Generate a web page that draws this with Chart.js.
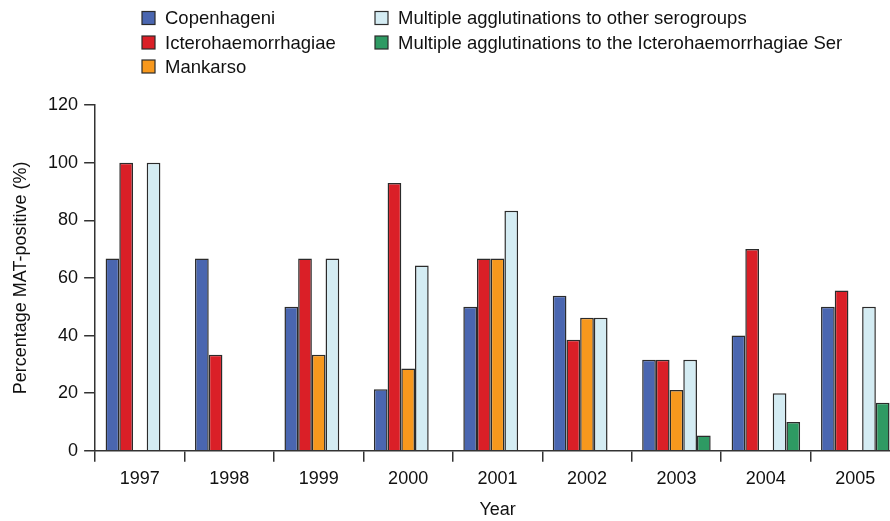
<!DOCTYPE html>
<html>
<head>
<meta charset="utf-8">
<script src="https://cdn.jsdelivr.net/npm/chart.js@4.4.1/dist/chart.umd.min.js"></script>
<style>
  html, body { margin: 0; padding: 0; background: #fff; overflow: hidden; }
  #wrap { width: 900px; height: 521px; }
</style>
</head>
<body>
<div id="wrap"><canvas id="matChart"></canvas></div>
<script>
// Percentage MAT-positive by serogroup and year
const years = ['1997', '1998', '1999', '2000', '2001', '2002', '2003', '2004', '2005'];
const copenhageni = [66.7, 66.7, 50, 21.4, 50, 53.8, 31.6, 40, 50];
const icterohaemorrhagiae = [100, 33.3, 66.7, 92.9, 66.7, 38.5, 31.6, 70, 55.6];
const mankarso = [null, null, 33.3, 28.6, 66.7, 46.2, 21.1, null, null];
const otherSerogroups = [100, null, 66.7, 64.3, 83.3, 46.2, 31.6, 20, 50];
const icteroSer = [null, null, null, null, null, null, 5.3, 10, 16.7];
const yTicks = [0, 20, 40, 60, 80, 100, 120];

const FONT = '"Liberation Sans", Arial, sans-serif';
const INK = '#2b2b2b';

function makeSet(label, data, color) {
    return {
        label: label,
        data: data,
        backgroundColor: color,
        borderColor: INK,
        borderWidth: 1.5,
        borderSkipped: 'start'
    };
}

// Legend in two columns like the original figure
const columnLegend = {
    id: 'columnLegend',
    afterDraw(chart) {
        const ctx = chart.ctx;
        const slots = [
            [142, 18], [142, 42.5], [142, 66.5],
            [375, 18], [375, 42.5]
        ];
        ctx.save();
        ctx.font = '18.5px ' + FONT;
        ctx.textBaseline = 'middle';
        chart.data.datasets.forEach((ds, i) => {
            const [x, y] = slots[i];
            ctx.fillStyle = ds.backgroundColor;
            ctx.fillRect(x, y - 6.5, 13, 13);
            ctx.strokeStyle = INK;
            ctx.lineWidth = 1.2;
            ctx.strokeRect(x, y - 6.5, 13, 13);
            ctx.fillStyle = '#111';
            ctx.fillText(ds.label, x + 23, y + 1);
        });
        ctx.restore();
    }
};

const ctx = document.getElementById('matChart').getContext('2d');
new Chart(ctx, {
    type: 'bar',
    data: {
        labels: years,
        datasets: [
            makeSet('Copenhageni', copenhageni, '#4a66b0'),
            makeSet('Icterohaemorrhagiae', icterohaemorrhagiae, '#da1f27'),
            makeSet('Mankarso', mankarso, '#f7981d'),
            makeSet('Multiple agglutinations to other serogroups', otherSerogroups, '#d4ecf3'),
            makeSet('Multiple agglutinations to the Icterohaemorrhagiae Ser', icteroSer, '#2e9a63')
        ]
    },
    options: {
        responsive: true,
        maintainAspectRatio: false,
        animation: false,
        layout: { padding: { top: 105, left: 10, right: 0, bottom: 0 } },
        plugins: {
            legend: { display: false },
            tooltip: { enabled: false }
        },
        datasets: {
            bar: { categoryPercentage: 0.766, barPercentage: 1.0 }
        },
        scales: {
            x: {
                grid: {
                    display: true,
                    offset: true,
                    drawOnChartArea: false,
                    drawTicks: true,
                    tickLength: 11,
                    color: '#333',
                    lineWidth: 1.5
                },
                border: { display: true, color: '#333', width: 1.5 },
                ticks: {
                    color: '#111',
                    padding: 6,
                    font: { family: FONT, size: 18 }
                },
                title: {
                    display: true,
                    text: 'Year',
                    color: '#111',
                    padding: { top: 4, bottom: 0 },
                    font: { family: FONT, size: 18 }
                }
            },
            y: {
                min: 0,
                max: 120,
                afterBuildTicks(scale) {
                    scale.ticks = yTicks.map(v => ({ value: v }));
                },
                grid: {
                    display: true,
                    drawOnChartArea: false,
                    drawTicks: true,
                    tickLength: 11,
                    color: '#333',
                    lineWidth: 1.5
                },
                border: { display: true, color: '#333', width: 1.5 },
                ticks: {
                    color: '#111',
                    padding: 6,
                    font: { family: FONT, size: 18 }
                },
                title: {
                    display: true,
                    text: 'Percentage MAT-positive (%)',
                    color: '#111',
                    padding: { top: 0, bottom: 10.5 },
                    font: { family: FONT, size: 18 }
                }
            }
        }
    },
    plugins: [columnLegend]
});
</script>
</body>
</html>
